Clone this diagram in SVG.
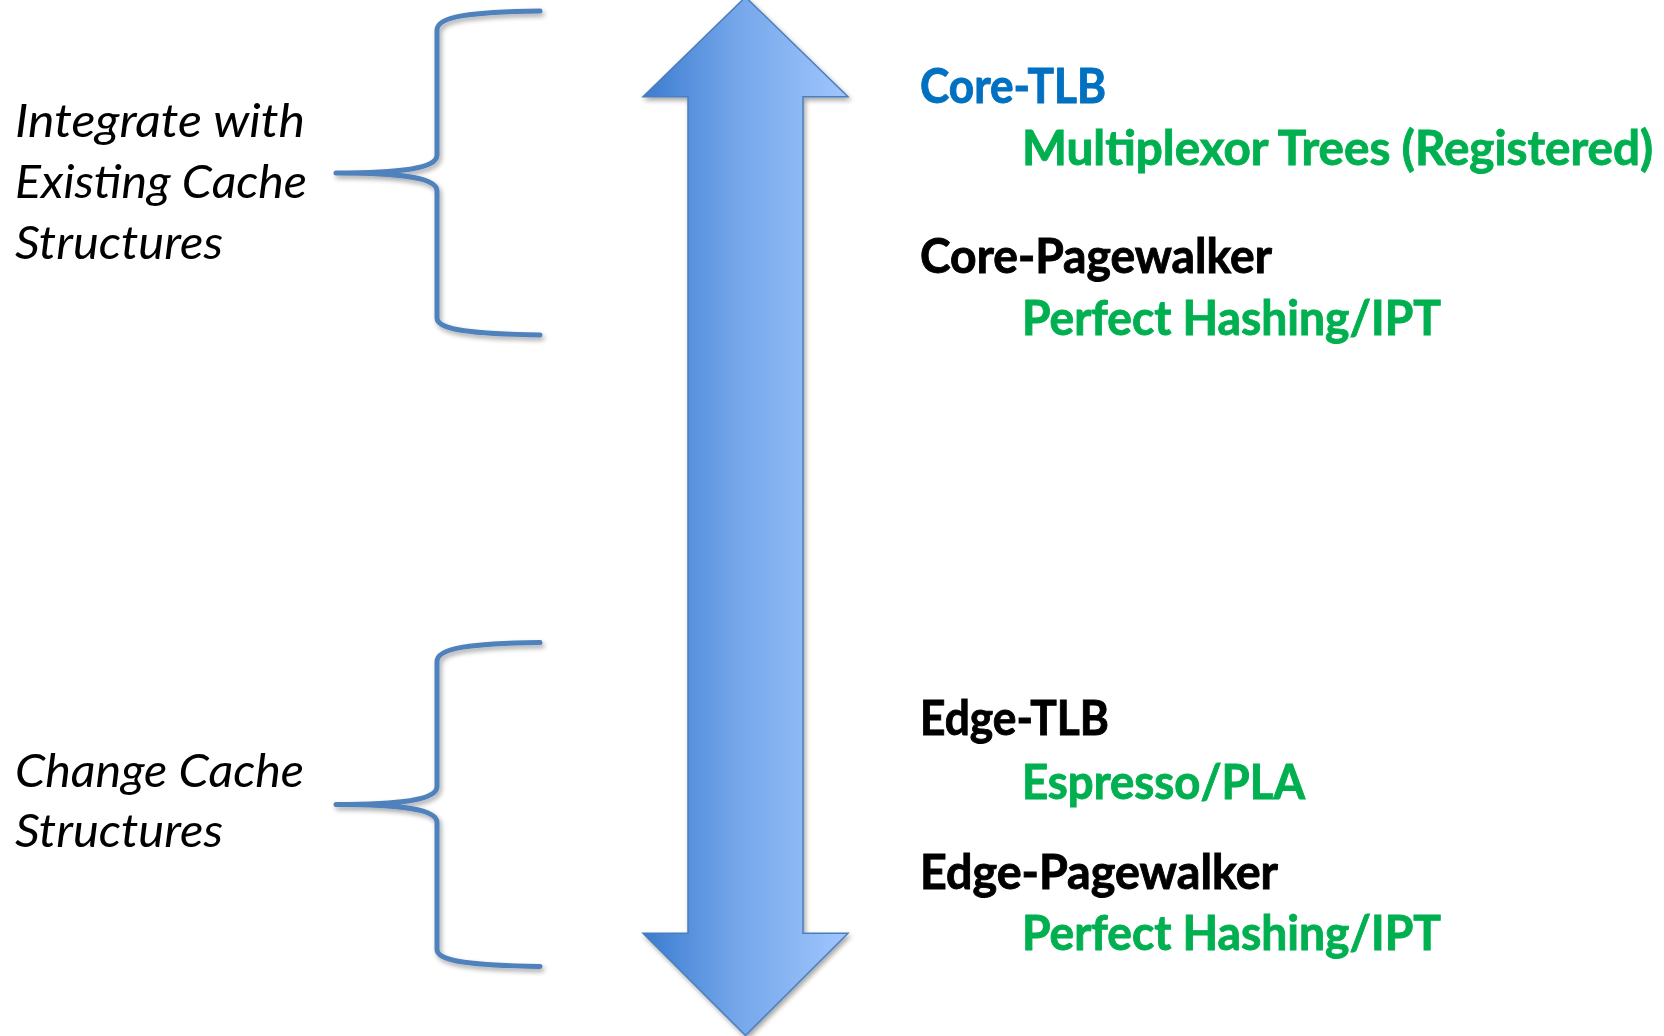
<svg xmlns="http://www.w3.org/2000/svg" width="1664" height="1036" viewBox="0 0 1664 1036">
  <style>
    .side { font-family: Lato, "Open Sans", "Liberation Sans", sans-serif; font-style: italic; font-size: 47px; fill: #000000; }
    .head { font-family: Lato, "Open Sans", "Liberation Sans", sans-serif; font-weight: bold; font-size: 47px; stroke-width: 0.9; }
    .blue { fill: #0070c0; stroke: #0070c0; }
    .black { fill: #000000; stroke: #000000; }
    .green { fill: #00b050; stroke: #00b050; }
    .brace { fill: none; stroke: #4f81bd; stroke-width: 5; stroke-linecap: round; stroke-linejoin: round; }
  </style>
  <defs>
    <linearGradient id="shaftFill" gradientUnits="userSpaceOnUse" x1="643" y1="0" x2="848" y2="0">
      <stop offset="0" stop-color="#3b7bd0"/>
      <stop offset="0.45" stop-color="#74a6ea"/>
      <stop offset="1" stop-color="#a0c6fd"/>
    </linearGradient>
    <filter id="softShadow" x="-20%" y="-5%" width="140%" height="110%">
      <feGaussianBlur in="SourceAlpha" stdDeviation="2.5"/>
      <feOffset dx="1.5" dy="3" result="blur"/>
      <feComponentTransfer><feFuncA type="linear" slope="0.35"/></feComponentTransfer>
      <feMerge><feMergeNode/><feMergeNode in="SourceGraphic"/></feMerge>
    </filter>
    <!-- left curly brace, drawn once and placed twice -->
    <path id="braceShape" class="brace" d="M540,11 C472,12 437,16 437,30 L437,155 C437,168 405,173 336,173 C405,173 437,178 437,191 L437,318 C437,330 472,334 540,335"/>
  </defs>

  <!-- double-headed vertical arrow -->
  <g id="arrow" filter="url(#softShadow)">
    <polygon points="745.5,-3 848,96.7 803,96.7 803,933.3 848,933.3 745.5,1035.5 643,933.3 688,933.3 688,96.7 643,96.7" fill="url(#shaftFill)" stroke="#4a7ebb" stroke-width="1.5" stroke-linejoin="miter"/>
  </g>

  <!-- braces grouping the two categories -->
  <g id="connectors" filter="url(#softShadow)">
    <use href="#braceShape"/>
    <use href="#braceShape" transform="translate(0,631.5)"/>
  </g>

  <!-- category labels on the left -->
  <g id="integrate">
    <text class="side" x="15" y="137" textLength="290" lengthAdjust="spacingAndGlyphs">Integrate with</text>
    <text class="side" x="15" y="198" textLength="292" lengthAdjust="spacingAndGlyphs">Existing Cache</text>
    <text class="side" x="15" y="259" textLength="208" lengthAdjust="spacingAndGlyphs">Structures</text>
  </g>
  <g id="change">
    <text class="side" x="15" y="787" textLength="289" lengthAdjust="spacingAndGlyphs">Change Cache</text>
    <text class="side" x="15" y="847" textLength="208" lengthAdjust="spacingAndGlyphs">Structures</text>
  </g>

  <!-- design points on the right -->
  <g id="core-tlb">
    <text class="head blue" x="920" y="103" textLength="186" lengthAdjust="spacingAndGlyphs">Core-TLB</text>
    <text class="head green" x="1022" y="165" textLength="631" lengthAdjust="spacingAndGlyphs">Multiplexor Trees (Registered)</text>
  </g>
  <g id="core-pagewalker">
    <text class="head black" x="920" y="273" textLength="352" lengthAdjust="spacingAndGlyphs">Core-Pagewalker</text>
    <text class="head green" x="1022" y="335" textLength="419" lengthAdjust="spacingAndGlyphs">Perfect Hashing/IPT</text>
  </g>
  <g id="edge-tlb">
    <text class="head black" x="920" y="735" textLength="189" lengthAdjust="spacingAndGlyphs">Edge-TLB</text>
    <text class="head green" x="1022" y="799" textLength="283" lengthAdjust="spacingAndGlyphs">Espresso/PLA</text>
  </g>
  <g id="edge-pagewalker">
    <text class="head black" x="920" y="889" textLength="358" lengthAdjust="spacingAndGlyphs">Edge-Pagewalker</text>
    <text class="head green" x="1022" y="950" textLength="419" lengthAdjust="spacingAndGlyphs">Perfect Hashing/IPT</text>
  </g>
</svg>
